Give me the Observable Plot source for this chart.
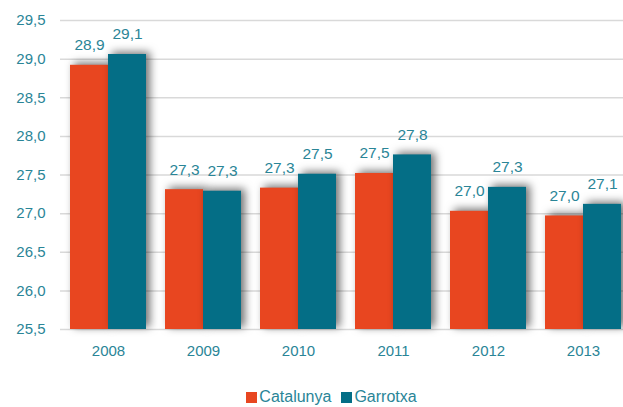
<!DOCTYPE html>
<html><head><meta charset="utf-8">
<script src="https://cdn.jsdelivr.net/npm/d3@7"></script>
<script src="https://cdn.jsdelivr.net/npm/@observablehq/plot@0.6"></script>
<style>
body{margin:0;background:#fff;font-family:"Liberation Sans",Arial,sans-serif;}
#chart{position:relative;width:623px;height:380px;}
#chart svg{position:absolute;left:0;top:0;}
#legend{position:absolute;top:388px;left:0;width:623px;text-align:center;font-size:16px;color:#2a8597;padding-left:40px;box-sizing:border-box;}
#legend span.sw{display:inline-block;width:11px;height:11px;margin-right:2px;vertical-align:-1px;}
#legend span.it{margin:0 5px;}
</style></head>
<body>
<div id="chart"></div>
<div id="legend"></div>
<script>
const years = ["2008","2009","2010","2011","2012","2013"];
const series = ["Catalunya","Garrotxa"];
const catalunya = [28.92, 27.31, 27.33, 27.52, 27.03, 26.97];
const garrotxa = [29.06, 27.29, 27.51, 27.76, 27.34, 27.12];
const yTicks = [25.5,26.0,26.5,27.0,27.5,28.0,28.5,29.0,29.5];
const colors = ["#E84620","#046E86"];

const data = [];
years.forEach((y,i)=>{
  data.push({year:y, s:series[0], v:catalunya[i]});
  data.push({year:y, s:series[1], v:garrotxa[i]});
});
const fmt = d => d.toFixed(1).replace(".", ",");
const textColor = "#2a8597";
const common = {
  width: 623, height: 380,
  marginLeft: 60, marginRight: 0, marginTop: 20, marginBottom: 51,
  style: {fontFamily: '"Liberation Sans", Arial, sans-serif', fontSize: "15px", color: textColor, background: "transparent"}
};

const bg = Plot.plot({
  ...common,
  y: {domain: [25.5, 29.5], ticks: yTicks, tickFormat: fmt, tickSize: 0, tickPadding: 15, label: null},
  marks: [
    Plot.ruleY(yTicks, {stroke: "#d9d9d9", strokeWidth: 1.5})
  ]
});

const fg = Plot.plot({
  ...common,
  fx: {domain: years, paddingInner: 0.2, paddingOuter: 0.063, align: 0.83, label: null, tickSize: 0, tickPadding: 16},
  x: {domain: series, padding: 0, axis: null},
  y: {domain: [25.5, 29.5], axis: null},
  color: {domain: series, range: colors},
  marks: [
    Plot.barY(data, {fx: "year", x: "s", y1: 25.5, y2: "v", fill: "s"}),
    Plot.text(data, {fx: "year", x: "s", y: "v", text: d => fmt(d.v), dy: -20, fill: textColor, fontSize: 15.5})
  ]
});
const c = document.getElementById("chart");
c.appendChild(bg);
c.appendChild(fg);
d3.select(fg).selectAll("rect").style("filter","drop-shadow(4px -2px 4px rgba(0,0,0,0.55))");
document.getElementById("legend").innerHTML = series.map((s,i)=>
  `<span class="it"><span class="sw" style="background:${colors[i]}"></span>${s}</span>`).join("");
</script>
</body></html>
